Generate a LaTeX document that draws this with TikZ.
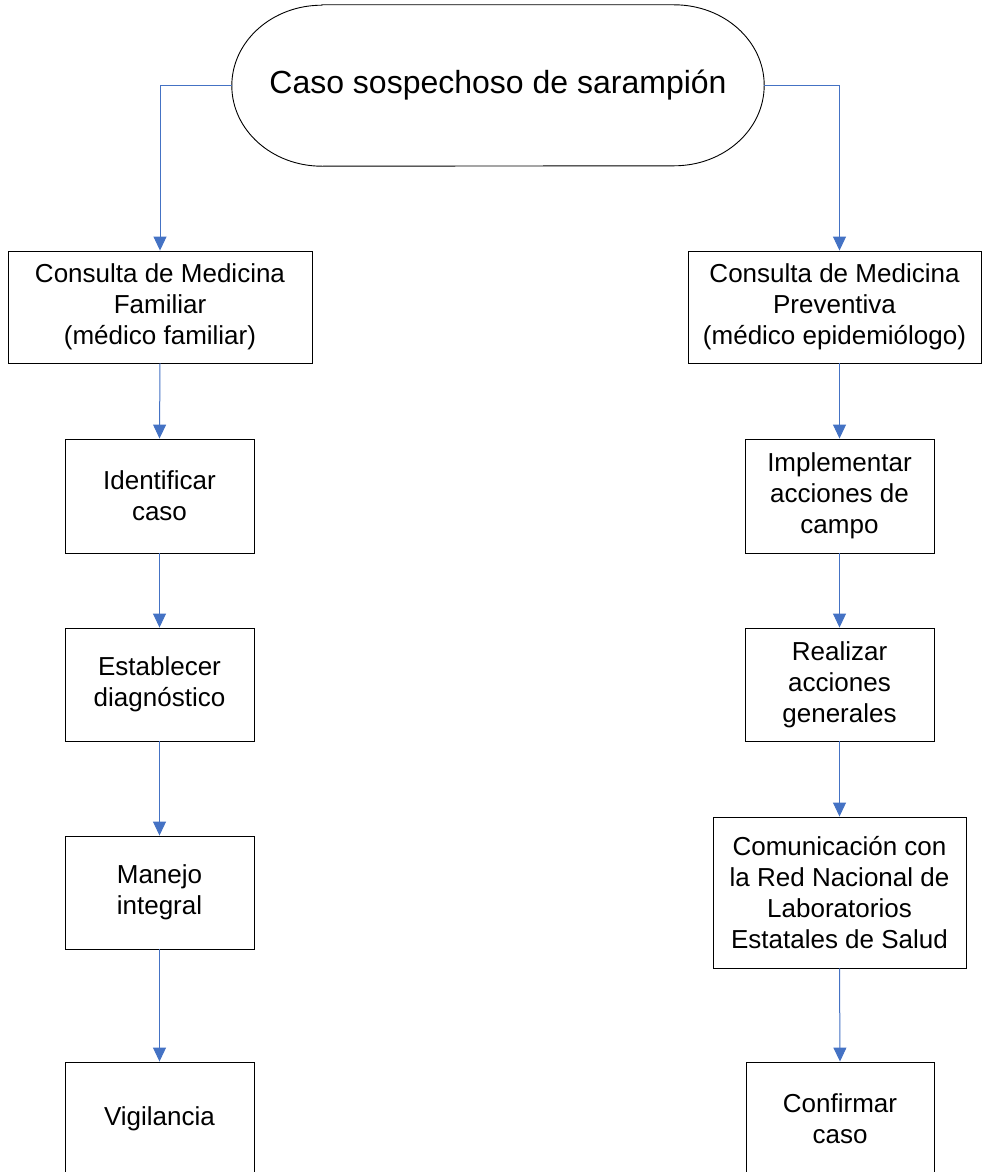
\documentclass[tikz,border=0pt]{standalone}
\usepackage{fontspec}
\setmainfont{Liberation Sans}
\usetikzlibrary{arrows.meta}
\definecolor{arrblue}{RGB}{68,114,196}
\begin{document}
\begin{tikzpicture}[x=1pt,y=1pt,
  box/.style={draw=black, line width=0.9pt, align=center, inner sep=0pt,
    font=\fontsize{26}{31}\selectfont},
  arr/.style={draw=arrblue, line width=1pt, -{Triangle[width=13pt,length=14pt]}}]
\useasboundingbox (0,0) rectangle (982,-1172);
% terminal
\node[inner sep=0pt, minimum width=532pt, minimum height=161pt,
  font=\fontsize{32}{36}\selectfont] (top) at (498,-85.5) {Caso sospechoso de sarampión};
\draw[line width=0.9pt] ([xshift=90pt]top.north west) -- ([xshift=-90pt]top.north east)
  arc[start angle=90, end angle=-90, x radius=90pt, y radius=80.5pt]
  -- ([xshift=90pt]top.south west)
  arc[start angle=270, end angle=90, x radius=90pt, y radius=80.5pt] -- cycle;
% left column
\node[box, minimum width=304pt, minimum height=112pt] (n1) at (160,-307) {Consulta de Medicina\\Familiar\\(médico familiar)};
\node[box, minimum width=189pt, minimum height=114pt] (n2) at (159.5,-496) {Identificar\\caso};
\node[box, minimum width=189pt, minimum height=113pt] (n3) at (159.5,-684.5) {Establecer\\diagnóstico};
\node[box, minimum width=189pt, minimum height=113pt] (n4) at (159.5,-892.5) {Manejo\\integral};
\node[box, minimum width=189pt, minimum height=113pt] (n5) at (159.5,-1118.5) {Vigilancia};
% right column
\node[box, minimum width=293pt, minimum height=112pt] (m1) at (834.5,-307) {Consulta de Medicina\\Preventiva\\(médico epidemiólogo)};
\node[box, minimum width=189pt, minimum height=114pt] (m2) at (839.5,-496) {Implementar\\acciones de\\campo};
\node[box, minimum width=189pt, minimum height=113pt] (m3) at (839.5,-684.5) {Realizar\\acciones\\generales};
\node[box, minimum width=253pt, minimum height=151pt] (m4) at (839.5,-892.5) {Comunicación con\\la Red Nacional de\\Laboratorios\\Estatales de Salud};
\node[box, minimum width=188pt, minimum height=113pt] (m5) at (840,-1118.5) {Confirmar\\caso};
% connectors
\draw[arr] (top.west) -| (n1.north);
\draw[arr] (n1.south) -- (n2.north);
\draw[arr] (n2.south) -- (n3.north);
\draw[arr] (n3.south) -- (n4.north);
\draw[arr] (n4.south) -- (n5.north);
\coordinate (m1top) at (m1.north -| m2.north);
\coordinate (m1bot) at (m1.south -| m2.south);
\draw[arr] (top.east) -| (m1top);
\draw[arr] (m1bot) -- (m2.north);
\draw[arr] (m2.south) -- (m3.north);
\draw[arr] (m3.south) -- (m4.north);
\draw[arr] (m4.south) -- (m5.north);
\end{tikzpicture}
\end{document}
